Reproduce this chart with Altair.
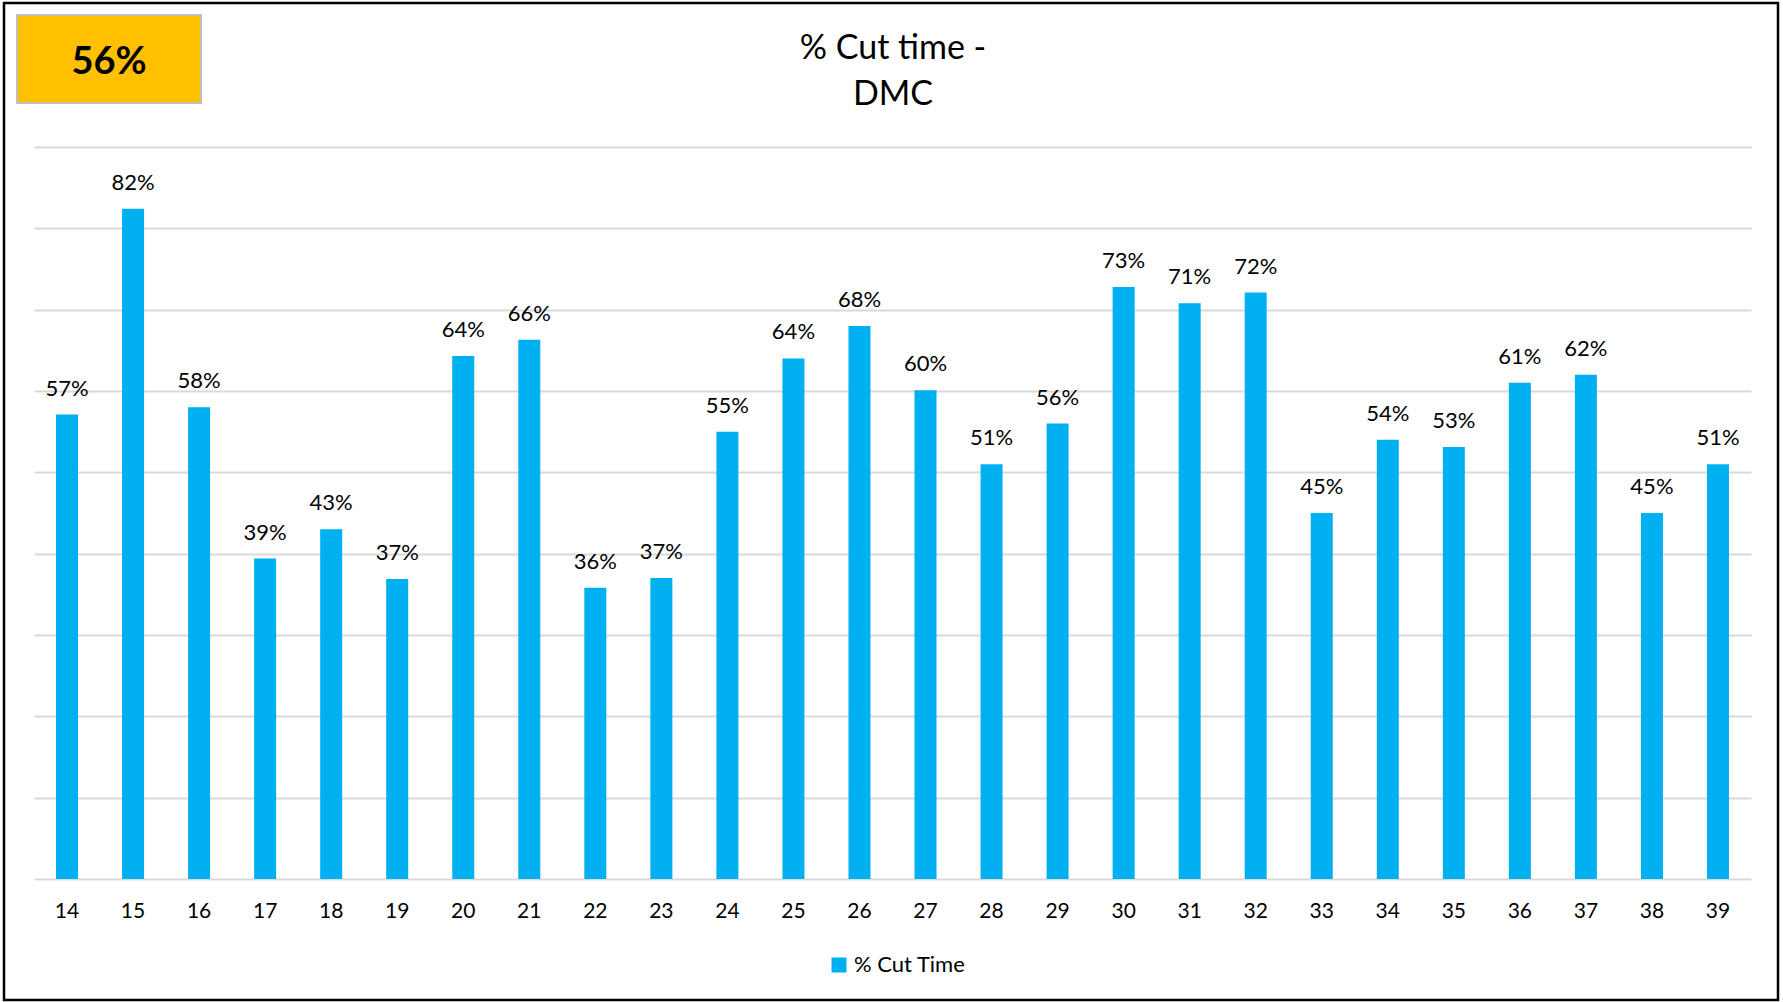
import altair as alt
import pandas as pd

weeks = [14, 15, 16, 17, 18, 19, 20, 21, 22, 23, 24, 25, 26, 27, 28, 29, 30, 31, 32, 33, 34, 35, 36, 37, 38, 39]
cut_time = [0.571, 0.824, 0.580, 0.394, 0.430, 0.369, 0.643, 0.663, 0.358, 0.370, 0.550, 0.640, 0.680,
            0.601, 0.510, 0.560, 0.728, 0.708, 0.721, 0.450, 0.540, 0.531, 0.610, 0.620, 0.450, 0.510]
series_name = "% Cut Time"
kpi_value = ["56%"]
title_line1 = ["% Cut time -"]
title_line2 = ["DMC"]
y_ticks = [0.0, 0.1, 0.2, 0.3, 0.4, 0.5, 0.6, 0.7, 0.8, 0.9]

FONT = "Lato"
BAR = "#00B0F0"

df = pd.DataFrame({"week": [str(w) for w in weeks], "value": cut_time, "series": series_name})
df["label"] = [f"{int(v * 100 + 0.5)}%" for v in cut_time]
week_order = [str(w) for w in weeks]

x = alt.X("week:N", sort=week_order,
          scale=alt.Scale(paddingInner=0.66, paddingOuter=0.33),
          axis=alt.Axis(title=None, labelAngle=0, labelFont=FONT, labelFontSize=21,
                        labelColor="#000000", ticks=False, domain=False, labelPadding=21,
                        grid=False))
y = alt.Y("value:Q", scale=alt.Scale(domain=[0, 0.9], nice=False),
          axis=alt.Axis(title=None, labels=False, ticks=False, domain=False,
                        values=y_ticks, grid=True, gridColor="#D9D9D9", gridWidth=2))

base = alt.Chart(df)

bars = base.mark_bar(size=22).encode(
    x=x, y=y,
    color=alt.Color("series:N", scale=alt.Scale(range=[BAR]),
                    legend=alt.Legend(title=None, orient="none", legendX=794, legendY=807,
                                      symbolType="square", symbolSize=225, symbolStrokeWidth=0,
                                      labelFont=FONT, labelFontSize=22, labelColor="#000000",
                                      symbolOpacity=1)),
)

labels = base.mark_text(font=FONT, fontSize=22, color="#000000", baseline="alphabetic", dy=-19).encode(
    x=alt.X("week:N", sort=week_order), y="value:Q", text="label:N"
)

kpi_df = pd.DataFrame({"kpi": kpi_value})
kpi_box = alt.Chart(kpi_df).mark_rect(fill="#FFC000", stroke="#BFBFBF", strokeWidth=2).encode(
    x=alt.value(-17), x2=alt.value(167), y=alt.value(-132), y2=alt.value(-44)
)
kpi_text = alt.Chart(kpi_df).mark_text(font=FONT, fontSize=38, fontWeight="bold", color="#000000",
                                       align="center", baseline="middle").encode(
    x=alt.value(75), y=alt.value(-84), text="kpi:N"
)
t1 = alt.Chart(pd.DataFrame({"t": title_line1})).mark_text(
    font=FONT, fontSize=34, color="#000000", align="center", baseline="alphabetic").encode(
    x=alt.value(859), y=alt.value(-88), text="t:N")
t2 = alt.Chart(pd.DataFrame({"t": title_line2})).mark_text(
    font=FONT, fontSize=34, color="#000000", align="center", baseline="alphabetic").encode(
    x=alt.value(859), y=alt.value(-42), text="t:N")
frame = alt.Chart(kpi_df).mark_rect(fill=None, stroke="#000000", strokeWidth=2.5).encode(
    x=alt.value(-30), x2=alt.value(1744), y=alt.value(-144), y2=alt.value(853)
)

chart = alt.layer(bars, labels, kpi_box, kpi_text, t1, t2, frame).properties(
    width=1717, height=732,
    autosize=alt.AutoSizeParams(type="none"),
    padding={"left": 34, "top": 147, "right": 32, "bottom": 123},
).configure(background="#FFFFFF").configure_view(stroke=None)

chart.save("out.html", embed_options={"renderer": "svg", "actions": False})
